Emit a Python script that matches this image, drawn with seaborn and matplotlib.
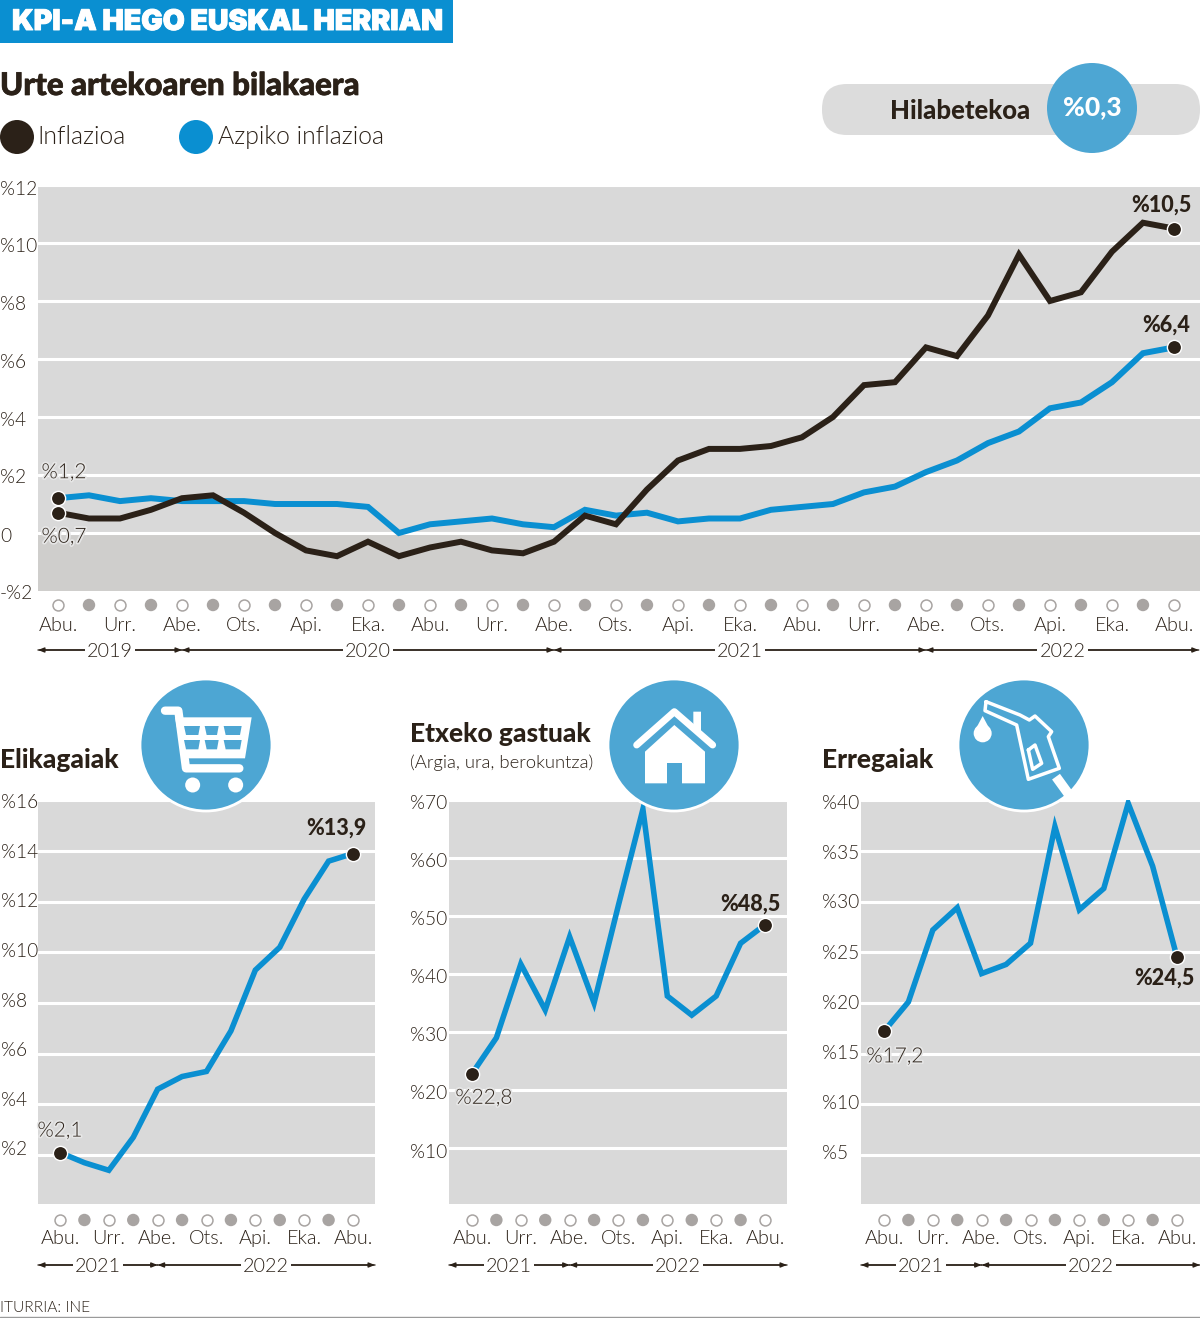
import matplotlib
matplotlib.use("Agg")
import numpy as np
import pandas as pd
import seaborn as sns
import matplotlib.pyplot as plt
import matplotlib.transforms as mtransforms
import matplotlib.patheffects as pe
from matplotlib.patches import Circle, Ellipse, FancyBboxPatch, Polygon, Rectangle

# Data
inflation = [0.7, 0.5, 0.5, 0.8, 1.2, 1.3, 0.7, 0.0, -0.6, -0.8, -0.3, -0.8, -0.5, -0.3, -0.6, -0.7, -0.3,
             0.6, 0.3, 1.5, 2.5, 2.9, 2.9, 3.0, 3.3, 4.0, 5.1, 5.2, 6.4, 6.1, 7.5, 9.6, 8.0, 8.3, 9.7, 10.7, 10.5]
core_inflation = [1.2, 1.3, 1.1, 1.2, 1.1, 1.1, 1.1, 1.0, 1.0, 1.0, 0.9, 0.0, 0.3, 0.4, 0.5, 0.3, 0.2,
                  0.8, 0.6, 0.7, 0.4, 0.5, 0.5, 0.8, 0.9, 1.0, 1.4, 1.6, 2.1, 2.5, 3.1, 3.5, 4.3, 4.5, 5.2, 6.2, 6.4]
food = [2.1, 1.7, 1.4, 2.7, 4.6, 5.1, 5.3, 6.9, 9.3, 10.2, 12.1, 13.6, 13.9]
household = [22.8, 29.0, 41.7, 33.8, 46.4, 35.0, 51.9, 68.4, 36.2, 32.9, 36.2, 45.3, 48.5]
fuel = [17.2, 20.1, 27.2, 29.4, 22.9, 23.8, 25.9, 37.4, 29.2, 31.3, 39.7, 33.5, 24.5]

main_months = ["Abu.", "Urr.", "Abe.", "Ots.", "Api.", "Eka."] * 3 + ["Abu."]
small_months = ["Abu.", "Urr.", "Abe.", "Ots.", "Api.", "Eka.", "Abu."]
main_ticks = [12, 10, 8, 6, 4, 2, 0, -2]
main_tick_labels = ["%12", "%10", "%8", "%6", "%4", "%2", "0", "-%2"]
food_ticks = [2, 4, 6, 8, 10, 12, 14, 16]
household_ticks = [10, 20, 30, 40, 50, 60, 70]
fuel_ticks = [5, 10, 15, 20, 25, 30, 35, 40]

W, H = 1200, 1318
DARK = "#2b2118"
BLUE = "#0a8fd1"
ICON = "#4da6d3"
GREY = "#d9d9d9"
NEG_GREY = "#cfcecc"
DOT = "#a8a4a2"
LIGHT = 300
BLACK = 900

sns.set_theme(style="white")
plt.rcParams["font.family"] = ["Lato", "DejaVu Sans"]
plt.rcParams["text.color"] = DARK

fig = plt.figure(figsize=(W / 100, H / 100), dpi=100, facecolor="white")


def make_axes(x0, y0, x1, y1):
    return fig.add_axes([x0 / W, 1 - y1 / H, (x1 - x0) / W, (y1 - y0) / H])


# overlay in pixel units for headings, legend and icons
top = fig.add_axes([0, 0, 1, 1], zorder=5)
top.set_xlim(0, W)
top.set_ylim(H, 0)
top.axis("off")
top.patch.set_alpha(0)


def setup_panel(ax, xlim, ylim, ticks, labels, shifts, months, pad_left):
    ax.set_facecolor(GREY)
    for s in ax.spines.values():
        s.set_visible(False)
    ax.set_xlim(*xlim)
    ax.set_ylim(*ylim)
    ax.set_yticks(ticks)
    ax.set_yticklabels(labels, fontsize=13.8, fontweight=LIGHT, color=DARK)
    ax.tick_params(axis="y", length=0, pad=pad_left * 0.72)
    # the printed labels do not sit quite on their gridlines
    for t, s in zip(ax.get_yticklabels(), shifts):
        t.set_ha("left")
        t.set_transform(t.get_transform() + mtransforms.Affine2D().translate(0, -s))
    ax.set_xticks(np.arange(0, len(months) * 2 - 1, 2))
    ax.set_xticklabels(months, fontsize=14.2, fontweight=LIGHT, color=DARK)
    ax.tick_params(axis="x", length=0, pad=18.8)
    ax.grid(False)
    for v in ticks:
        if v > ylim[0]:
            ax.axhline(v, color="white", lw=2.2, zorder=1)


def month_dots(ax, n, y_px):
    trans = mtransforms.blended_transform_factory(ax.transData, top.transData)
    idx = np.arange(n)
    even = idx[idx % 2 == 0]
    odd = idx[idx % 2 == 1]
    ax.scatter(even, [y_px] * len(even), s=62, facecolor="white", edgecolor=DOT, lw=1.1,
               transform=trans, clip_on=False, zorder=3)
    ax.scatter(odd, [y_px] * len(odd), s=80, facecolor=DOT, edgecolor="none",
               transform=trans, clip_on=False, zorder=3)


def year_spans(ax, edges, years, y_px):
    coords = (ax.transData, top.transData)
    style = "-|>,head_length=0.3,head_width=0.12"
    for a, b, year in zip(edges[:-1], edges[1:], years):
        ax.annotate("", xy=(a, y_px), xytext=(b, y_px), xycoords=coords, textcoords=coords,
                    arrowprops=dict(arrowstyle=style, color=DARK, lw=1, shrinkA=0, shrinkB=0),
                    annotation_clip=False)
        ax.annotate("", xy=(b, y_px), xytext=(a, y_px), xycoords=coords, textcoords=coords,
                    arrowprops=dict(arrowstyle=style, color=DARK, lw=1, shrinkA=0, shrinkB=0),
                    annotation_clip=False)
        ax.annotate(year, xy=((a + b) / 2, y_px), xycoords=coords, ha="center", va="center_baseline",
                    fontsize=14.2, fontweight=LIGHT, annotation_clip=False,
                    bbox=dict(facecolor="white", edgecolor="none", pad=1.5))


def end_point(ax, i, y, label, dx, dy, bold=False):
    ax.scatter([i], [y], s=105, color=DARK, edgecolor="white", lw=1.0, zorder=6, clip_on=False)
    effects = None if bold else [pe.withStroke(linewidth=2.5, foreground="#e6e6e6")]
    ax.annotate(label, xy=(i, y), xytext=(dx, dy), textcoords="offset pixels", ha="center", va="center",
                fontsize=15.5 if bold else 15, fontweight=BLACK if bold else LIGHT,
                path_effects=effects, zorder=7, annotation_clip=False)


# main chart
ax_main = make_axes(38, 185, 1200, 591)
main_lim = (-0.645, 36.84)
setup_panel(ax_main, main_lim, (-2, 12), main_ticks, main_tick_labels, [3, 2, 2, 2, 2, 1, 2, 1], main_months, 38)
ax_main.axhspan(-2, 0, color=NEG_GREY, zorder=0, lw=0)
t_main = np.arange(len(inflation))
sns.lineplot(x=t_main, y=core_inflation, color=BLUE, lw=4.3, ax=ax_main, zorder=4, solid_joinstyle="miter")
sns.lineplot(x=t_main, y=inflation, color=DARK, lw=4.3, ax=ax_main, zorder=5, solid_joinstyle="miter")
ax_main.set_xlim(*main_lim)
ax_main.set_ylim(-2, 12)
month_dots(ax_main, len(inflation), 605)
year_spans(ax_main, [main_lim[0], 4, 16, 28, 36.8], ["2019", "2020", "2021", "2022"], 650)
end_point(ax_main, 0, core_inflation[0], "%1,2", 6, 26)
end_point(ax_main, 0, inflation[0], "%0,7", 6, -24)
end_point(ax_main, 36, inflation[-1], "%10,5", -13, 23, bold=True)
end_point(ax_main, 36, core_inflation[-1], "%6,4", -8, 22, bold=True)

# three small panels
panels = [
    (38, 375, 800.3, (-0.9, 12.9), (0.07, 16), food_ticks, food, [-7, -5, -5, -3, -2, -2, 0, 1],
     ("%2,1", 0, 22, False), ("%13,9", -17, 25, True)),
    (449, 787, 800, (-0.94, 12.9), (0.34, 70), household_ticks, household, [3, 2, 2, 2, 2, 2, 2],
     ("%22,8", 12, -24, False), ("%48,5", -15, 21, True)),
    (861, 1200, 800.3, (-0.94, 12.94), (0.16, 40), fuel_ticks, fuel, [-3, -2, -2, -1, 0, -1, 1, 2],
     ("%17,2", 11, -25, False), ("%24,5", -13, -21, True)),
]
for x0, x1, y0, xlim, ylim, ticks, values, shifts, first, last in panels:
    ax = make_axes(x0, y0, x1, 1204)
    labels = ["%" + str(v) for v in ticks]
    setup_panel(ax, xlim, ylim, ticks, labels, shifts, small_months, 39 if x0 > 100 else 37)
    t = np.arange(len(values))
    sns.lineplot(x=t, y=values, color=BLUE, lw=4, ax=ax, zorder=4, solid_joinstyle="miter")
    ax.set_xlim(*xlim)
    ax.set_ylim(*ylim)
    month_dots(ax, len(values), 1220)
    year_spans(ax, [xlim[0], 4, xlim[1]], ["2021", "2022"], 1265)
    end_point(ax, 0, values[0], first[0], first[1], first[2], bold=first[3])
    end_point(ax, 12, values[-1], last[0], last[1], last[2], bold=last[3])

# header block
top.add_patch(Rectangle((0, 0), 453, 43, color=BLUE, lw=0))
top.text(12, 22.5, "KPI-A HEGO EUSKAL HERRIAN", color="white", fontsize=20.5, fontweight=BLACK, family="Inter",
         va="center", path_effects=[pe.withStroke(linewidth=0.7, foreground="white")])
top.text(0, 86, "Urte artekoaren bilakaera", fontsize=22.5, fontweight=BLACK, va="center",
         path_effects=[pe.withStroke(linewidth=0.5, foreground=DARK)])

# legend
top.add_patch(Circle((17, 137), 17, color=DARK, lw=0))
top.text(37, 137, "Inflazioa", fontsize=17.8, fontweight=LIGHT, va="center")
top.add_patch(Circle((196, 137), 17, color=BLUE, lw=0))
top.text(218, 137, "Azpiko inflazioa", fontsize=17.8, fontweight=LIGHT, va="center")

# monthly pill
top.add_patch(FancyBboxPatch((822, 84), 378, 51, boxstyle="round,pad=0,rounding_size=25", color="#dcdcdc", lw=0))
top.add_patch(Circle((1092, 108), 45, color=ICON, lw=0))
top.text(960, 111, "Hilabetekoa", fontsize=18.5, fontweight=BLACK, ha="center", va="center")
top.text(1092, 107, "%0,3", fontsize=19, fontweight=BLACK, color="white", ha="center", va="center")

# small headings
top.text(0, 760, "Elikagaiak", fontsize=19, fontweight=BLACK, va="center")
top.text(410, 734, "Etxeko gastuak", fontsize=19, fontweight=BLACK, va="center")
top.text(410, 763, "(Argia, ura, berokuntza)", fontsize=13.3, fontweight=LIGHT, va="center")
top.text(822, 760, "Erregaiak", fontsize=19, fontweight=BLACK, va="center")


def zoomed(points, x0, y0):
    return [(x0 + px / 3, y0 + py / 3) for px, py in points]


def stroke(points, x0, y0, lw, color="white", cap="round"):
    p = np.array(zoomed(points, x0, y0))
    top.plot(p[:, 0], p[:, 1], color=color, lw=lw, solid_capstyle=cap, solid_joinstyle="round", zorder=7)


def shape(points, x0, y0, color="white"):
    top.add_patch(Polygon(zoomed(points, x0, y0), closed=True, facecolor=color, edgecolor="none", zorder=7))


# shopping cart icon
top.add_patch(Circle((206, 745), 66, facecolor=ICON, edgecolor="white", lw=2, zorder=6))
stroke([(105, 122), (145, 122), (168, 295), (328, 295)], 130, 670, 6)
shape([(135, 142), (365, 142), (345, 265), (158, 265)], 130, 670)
for row_top, row_bot in [(168, 195), (210, 238)]:
    for a, b in [(162, 210), (224, 266), (281, 335)]:
        shape([(a, row_top), (b, row_top), (b - 5, row_bot), (a + 6, row_bot)], 130, 670, ICON)
for wx in (188, 317):
    top.add_patch(Circle((130 + wx / 3, 670 + 345 / 3), 7.5, color="white", lw=0, zorder=7))

# house icon
top.add_patch(Circle((674, 745), 66, facecolor=ICON, edgecolor="white", lw=2, zorder=6))
stroke([(140, 225), (253, 125), (368, 225)], 590, 670, 5)
shape([(310, 125), (333, 125), (333, 190), (310, 170)], 590, 670)
shape([(165, 245), (253, 165), (345, 245), (345, 340), (165, 340)], 590, 670)
shape([(232, 280), (276, 280), (276, 342), (232, 342)], 590, 670, ICON)

# fuel nozzle icon
top.add_patch(Circle((1024, 745), 66, facecolor=ICON, edgecolor="white", lw=2, zorder=6))
stroke([(138, 95), (240, 135), (268, 150), (285, 138), (335, 185), (325, 200), (358, 295), (265, 328),
        (230, 165), (135, 122), (138, 95)], 940, 670, 2.5)
stroke([(265, 240), (285, 225), (305, 280), (278, 298), (265, 240)], 940, 670, 2.5)
stroke([(348, 320), (395, 385)], 940, 670, 7, cap="butt")
top.add_patch(Ellipse((940 + 128 / 3, 670 + 190 / 3), 18, 18, color="white", lw=0, zorder=7))
shape([(128, 138), (103, 185), (153, 185)], 940, 670)

# source and bottom rule
top.text(0, 1308, "ITURRIA: INE", fontsize=11.2, fontweight=LIGHT, va="center")
top.axhline(1317, color="#9a9a9a", lw=1)

fig.savefig("out.png", dpi=100)
